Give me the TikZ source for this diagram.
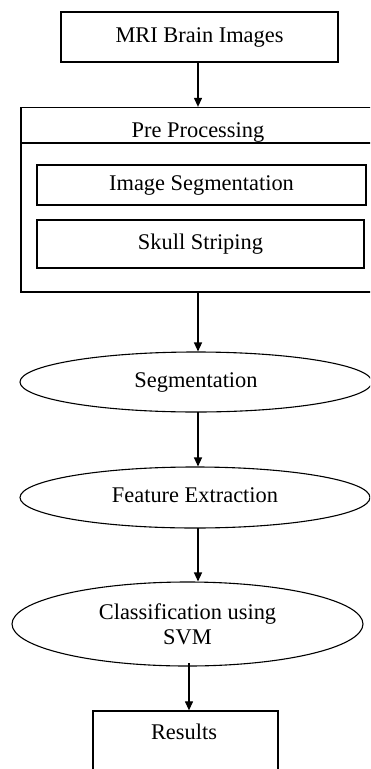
\documentclass[tikz,border=0pt]{standalone}
\usepackage{fontspec}
\setmainfont{Liberation Serif}
\usetikzlibrary{arrows.meta,shapes.geometric}
\begin{document}
\begin{tikzpicture}[x=1pt,y=-1pt,
  every node/.style={font=\fontsize{22.4}{25}\selectfont, inner sep=0pt, text height=15pt, text depth=5pt},
  box/.style={draw, line width=1.3pt, rectangle},
  oval/.style={draw, line width=1.1pt, ellipse},
  lbl/.style={},
  flow/.style={line width=1.2pt, -{Triangle[length=9pt,width=8pt]}}]
\useasboundingbox (0,0) rectangle (370,769);
\clip (0,0) rectangle (370,769);
\fill[white] (0,0) rectangle (370,769);

\node[box, minimum width=277pt, minimum height=50pt] (mri) at (199.5,37) {MRI Brain Images};

\node[box, minimum width=357pt, minimum height=184.5pt] (pre) at (199.5,199.75) {};
\coordinate (divl) at (21,143);
\coordinate (divr) at (378,143);
\draw[line width=1.3pt] (divl) -- (divr);
\node[lbl] (pretext) at (198,132) {Pre Processing};

\node[box, minimum width=329pt, minimum height=40pt] (imgseg) at (201.5,185) {Image Segmentation};
\node[box, minimum width=327pt, minimum height=48pt] (skull) at (200.5,244) {Skull Striping};

\node[oval, minimum width=352pt, minimum height=60pt] (seg) at (196,382) {Segmentation};
\node[oval, minimum width=350pt, minimum height=61pt] (feat) at (195,497.5) {Feature Extraction};
\node[oval, minimum width=351pt, minimum height=84pt, align=center, text height=, text depth=] (cls) at (187.5,624) {Classification using\\SVM};

\node[box, minimum width=185pt, minimum height=70pt] (res) at (185.5,746) {};
\node[lbl] (restext) at (184,734) {Results};

\coordinate (a1) at (198,62);
\coordinate (a2) at (198,292);
\coordinate (a3) at (198,412);
\coordinate (a4) at (198,528);
\coordinate (a5) at (189,663);

\draw[flow] (a1) -- (a1 |- pre.north);
\draw[flow] (a2) -- (a2 |- seg.north);
\draw[flow] (a3) -- (a3 |- feat.north);
\draw[flow] (a4) -- (a4 |- cls.north);
\draw[flow] (a5) -- (a5 |- res.north);
\end{tikzpicture}
\end{document}
